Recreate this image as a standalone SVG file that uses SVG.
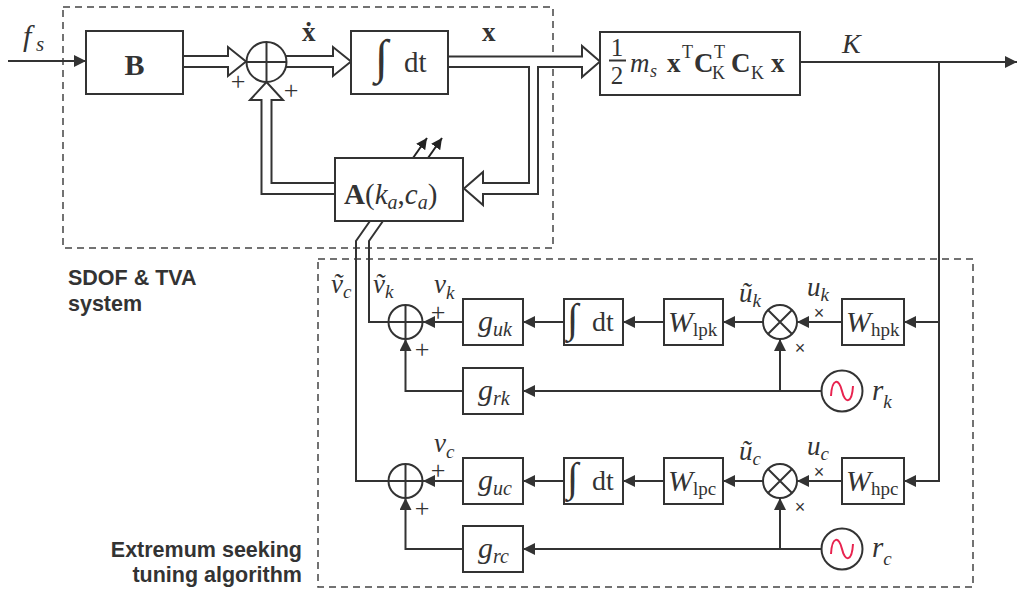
<svg xmlns="http://www.w3.org/2000/svg" width="1017" height="592" viewBox="0 0 1017 592">
<defs>
<marker id="ah" viewBox="0 0 12 12" refX="12" refY="6" markerWidth="12" markerHeight="12" markerUnits="userSpaceOnUse" orient="auto"><path d="M0,0 L12,6 L0,12 Z" fill="#333"/></marker>
<marker id="ahs" viewBox="0 0 11 11" refX="11" refY="5.5" markerWidth="11" markerHeight="11" markerUnits="userSpaceOnUse" orient="auto"><path d="M0,0 L11,5.5 L0,11 Z" fill="#222"/></marker>
</defs>
<style>
.box{fill:#fff;stroke:#333;stroke-width:2}
.ln{fill:none;stroke:#333;stroke-width:2}
.ar{fill:none;stroke:#333;stroke-width:2;marker-end:url(#ah)}
.dl{fill:#fff;stroke:#333;stroke-width:2;stroke-linejoin:miter}
.dash{fill:none;stroke:#444;stroke-width:1.5;stroke-dasharray:7 5}
.m{font-family:"Liberation Serif","Times New Roman",serif;fill:#333}
.i{font-style:italic}
.b{font-weight:bold}
.pm{font-family:"Liberation Serif",serif;font-size:26px;fill:#333;text-anchor:middle}
.x{font-family:"Liberation Sans",sans-serif;font-size:18px;fill:#333;text-anchor:middle}
.lab{font-family:"Liberation Sans",Arial,sans-serif;font-weight:bold;font-size:21.5px;fill:#333}
.sine{fill:none;stroke:#e8234f;stroke-width:2}
</style>

<g id="regions">
<rect class="dash" x="63" y="7" width="490" height="241"/>
<rect class="dash" x="318" y="259" width="655" height="328"/>
<text class="lab" x="68" y="285">SDOF &amp; TVA</text>
<text class="lab" x="68" y="311">system</text>
<text class="lab" x="302" y="557" text-anchor="end">Extremum seeking</text>
<text class="lab" x="302" y="582" text-anchor="end">tuning algorithm</text>
</g>

<g id="connectors">
<path class="ar" d="M8,61 H86"/>
<path class="dl" d="M183,56 H228 V47 L246,61.5 L228,76 V67 H183"/>
<path class="dl" d="M286,56 H333 V47 L351,61.5 L333,76 V67 H286"/>
<path class="dl" d="M448,56.5 H582 V46 L600,61.5 L582,77 V67 H538 V194 H483 V205 L464,188.5 L483,172 V183 H529 V67 H448 Z"/>
<path class="dl" d="M335,194 H261.5 V100 H250 L266.5,82 L283,100 H271.5 V183 H335"/>
<path class="ln" d="M800,62 H1000"/>
<path class="ar" d="M990,62 H1017"/>
<path class="ar" d="M939,62 V481 H904"/>
<path class="ar" d="M939,322 H904"/>
<path fill="none" stroke="#222" stroke-width="2" marker-end="url(#ahs)" d="M413,158 L427,138"/>
<path fill="none" stroke="#222" stroke-width="2" marker-end="url(#ahs)" d="M428,158 L442,138"/>
<path class="ln" d="M370,221 L356,241 V481 H388"/>
<path class="ln" d="M383,221 L369,241 V322 H388"/>
<path class="ar" d="M842,322 H797"/>
<path class="ar" d="M763,322 H723"/>
<path class="ar" d="M664,322 H623"/>
<path class="ar" d="M564,322 H523"/>
<path class="ar" d="M463,322 H423"/>
<path class="ar" d="M463,391 H405.5 V339"/>
<path class="ar" d="M821.5,391 H523"/>
<path class="ar" d="M780,391 V339"/>
<path class="ar" d="M842,481 H797"/>
<path class="ar" d="M763,481 H723"/>
<path class="ar" d="M664,481 H623"/>
<path class="ar" d="M564,481 H523"/>
<path class="ar" d="M463,481 H423"/>
<path class="ar" d="M463,549 H405.5 V498"/>
<path class="ar" d="M821.5,549 H523"/>
<path class="ar" d="M780,549 V498"/>
</g>

<g id="signal-labels" class="m">
<text class="i" x="23" y="46" font-size="30">f</text>
<text class="i" x="36" y="51" font-size="21">s</text>
<text class="b" x="302" y="41" font-size="27">ẋ</text>
<text class="b" x="482" y="41" font-size="27">x</text>
<text class="i" x="842" y="53" font-size="28">K</text>
<text class="i" x="331" y="293" font-size="27">ṽ<tspan font-size="19" dy="5">c</tspan></text>
<text class="i" x="373" y="293" font-size="27">ṽ<tspan font-size="19" dy="5">k</tspan></text>
<text class="i" x="434" y="293" font-size="27">v<tspan font-size="19" dy="6">k</tspan></text>
<text class="i" x="434" y="452" font-size="27">v<tspan font-size="19" dy="6">c</tspan></text>
<text class="i" x="739" y="302" font-size="27">ũ<tspan font-size="19" dy="5">k</tspan></text>
<text class="i" x="807" y="296" font-size="27">u<tspan font-size="19" dy="5">k</tspan></text>
<text class="i" x="739" y="460" font-size="27">ũ<tspan font-size="19" dy="5">c</tspan></text>
<text class="i" x="807" y="455" font-size="27">u<tspan font-size="19" dy="5">c</tspan></text>
<text class="i" x="872" y="400" font-size="29">r<tspan font-size="19" dy="8">k</tspan></text>
<text class="i" x="872" y="557" font-size="29">r<tspan font-size="19" dy="8">c</tspan></text>
<text class="pm" x="238" y="90">+</text>
<text class="pm" x="291" y="99">+</text>
<text class="pm" x="438" y="321">+</text>
<text class="pm" x="422" y="358">+</text>
<text class="pm" x="438" y="479">+</text>
<text class="pm" x="422" y="517">+</text>
<text class="x" x="819" y="319">×</text>
<text class="x" x="800" y="354">×</text>
<text class="x" x="819" y="478">×</text>
<text class="x" x="800" y="513">×</text>
</g>

<g id="B"><rect class="box" x="86" y="31" width="97" height="63"/><text class="m b" x="134.5" y="75" font-size="30" text-anchor="middle">B</text></g>
<g id="sum-top"><circle class="box" cx="266.5" cy="62" r="20"/><path class="ln" d="M246.5,62 H286.5 M266.5,42 V82"/></g>
<g id="int-top"><rect class="box" x="351" y="31" width="97" height="63"/><text class="m" x="375" y="73" font-size="48">∫</text><text class="m" x="404" y="72" font-size="29">dt</text></g>
<g id="energy"><rect class="box" x="600" y="32" width="200" height="63"/>
<text class="m" x="617" y="56" font-size="25" text-anchor="middle">1</text>
<path class="ln" d="M609,60.5 H626" stroke-width="1.5"/>
<text class="m" x="617" y="84" font-size="25" text-anchor="middle">2</text>
<text class="m i" x="630" y="72" font-size="27">m</text><text class="m i" x="650" y="77" font-size="18">s</text>
<text class="m b" x="667" y="72" font-size="27">x</text><text class="m" x="682" y="58" font-size="18">T</text>
<text class="m b" x="694" y="72" font-size="27">C</text><text class="m" x="714" y="58" font-size="18">T</text><text class="m" x="712" y="79" font-size="18">K</text>
<text class="m b" x="731" y="72" font-size="27">C</text><text class="m" x="751" y="79" font-size="18">K</text>
<text class="m b" x="771" y="72" font-size="27">x</text>
</g>
<g id="A"><rect class="box" x="335" y="158" width="128" height="63"/>
<text class="m" x="344" y="204" font-size="29"><tspan class="b">A</tspan>(<tspan class="i">k</tspan><tspan class="i" font-size="20" dy="5">a</tspan><tspan dy="-5">,</tspan><tspan class="i">c</tspan><tspan class="i" font-size="20" dy="5">a</tspan><tspan dy="-5">)</tspan></text>
</g>

<g id="sum-k"><circle class="box" cx="405.5" cy="322" r="17"/><path class="ln" d="M388.5,322 H422.5 M405.5,305 V339"/></g>
<g id="g-uk"><rect class="box" x="463" y="299" width="60" height="46"/><text class="m i" x="478" y="331" font-size="30">g<tspan font-size="20" dy="5">uk</tspan></text></g>
<g id="int-k"><rect class="box" x="564" y="299" width="59" height="46"/><text class="m" x="567" y="332" font-size="41">∫</text><text class="m" x="592" y="331" font-size="28">dt</text></g>
<g id="W-lpk"><rect class="box" x="664" y="299" width="59" height="46"/><text class="m i" x="668" y="332" font-size="30">W<tspan font-style="normal" font-size="19" dy="4">lpk</tspan></text></g>
<g id="mult-k"><circle class="box" cx="780" cy="322" r="17"/><path class="ln" d="M768,310 L792,334 M792,310 L768,334"/></g>
<g id="W-hpk"><rect class="box" x="842" y="299" width="62" height="46"/><text class="m i" x="846" y="332" font-size="30">W<tspan font-style="normal" font-size="19" dy="4">hpk</tspan></text></g>
<g id="g-rk"><rect class="box" x="463" y="368" width="60" height="46"/><text class="m i" x="478" y="400" font-size="30">g<tspan font-size="20" dy="5">rk</tspan></text></g>
<g id="src-k"><circle class="box" cx="842" cy="391" r="20.5"/><path class="sine" d="M831,396 C832,378 839,378 842,391 C845,404 852,404 853,386"/></g>

<g id="sum-c"><circle class="box" cx="405.5" cy="481" r="17"/><path class="ln" d="M388.5,481 H422.5 M405.5,464 V498"/></g>
<g id="g-uc"><rect class="box" x="463" y="458" width="60" height="46"/><text class="m i" x="478" y="490" font-size="30">g<tspan font-size="20" dy="5">uc</tspan></text></g>
<g id="int-c"><rect class="box" x="564" y="458" width="59" height="46"/><text class="m" x="567" y="491" font-size="41">∫</text><text class="m" x="592" y="490" font-size="28">dt</text></g>
<g id="W-lpc"><rect class="box" x="664" y="458" width="59" height="46"/><text class="m i" x="668" y="491" font-size="30">W<tspan font-style="normal" font-size="19" dy="4">lpc</tspan></text></g>
<g id="mult-c"><circle class="box" cx="780" cy="481" r="17"/><path class="ln" d="M768,469 L792,493 M792,469 L768,493"/></g>
<g id="W-hpc"><rect class="box" x="842" y="458" width="62" height="46"/><text class="m i" x="846" y="491" font-size="30">W<tspan font-style="normal" font-size="19" dy="4">hpc</tspan></text></g>
<g id="g-rc"><rect class="box" x="463" y="526" width="60" height="46"/><text class="m i" x="478" y="558" font-size="30">g<tspan font-size="20" dy="5">rc</tspan></text></g>
<g id="src-c"><circle class="box" cx="842" cy="549" r="20.5"/><path class="sine" d="M831,554 C832,536 839,536 842,549 C845,562 852,562 853,544"/></g>
</svg>
